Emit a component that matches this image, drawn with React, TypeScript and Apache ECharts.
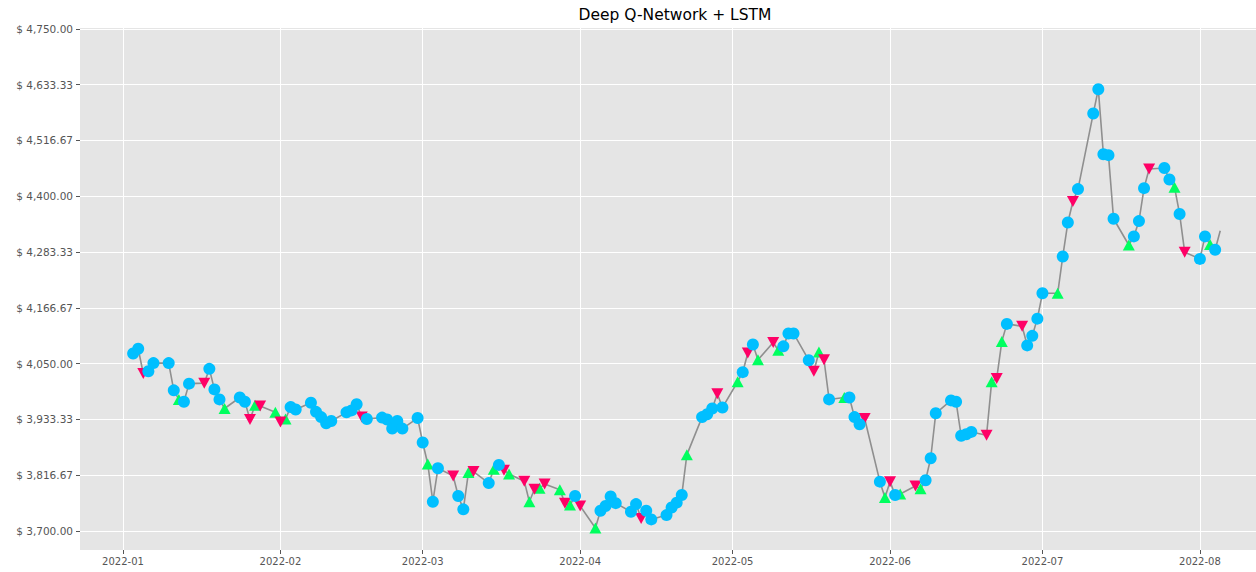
import React, { useEffect, useRef } from "react";
import * as echarts from "echarts";

const TITLE = "Deep Q-Network + LSTM";

const DATES = [
  "2022-01-03","2022-01-04","2022-01-05","2022-01-06","2022-01-07",
  "2022-01-10","2022-01-11","2022-01-12","2022-01-13","2022-01-14",
  "2022-01-17","2022-01-18","2022-01-19","2022-01-20","2022-01-21",
  "2022-01-24","2022-01-25","2022-01-26","2022-01-27","2022-01-28",
  "2022-01-31","2022-02-01","2022-02-02","2022-02-03","2022-02-04",
  "2022-02-07","2022-02-08","2022-02-09","2022-02-10","2022-02-11",
  "2022-02-14","2022-02-15","2022-02-16","2022-02-17","2022-02-18",
  "2022-02-21","2022-02-22","2022-02-23","2022-02-24","2022-02-25",
  "2022-02-28","2022-03-01","2022-03-02","2022-03-03","2022-03-04",
  "2022-03-07","2022-03-08","2022-03-09","2022-03-10","2022-03-11",
  "2022-03-14","2022-03-15","2022-03-16","2022-03-17","2022-03-18",
  "2022-03-21","2022-03-22","2022-03-23","2022-03-24","2022-03-25",
  "2022-03-28","2022-03-29","2022-03-30","2022-03-31","2022-04-01",
  "2022-04-04","2022-04-05","2022-04-06","2022-04-07","2022-04-08",
  "2022-04-11","2022-04-12","2022-04-13","2022-04-14","2022-04-15",
  "2022-04-18","2022-04-19","2022-04-20","2022-04-21","2022-04-22",
  "2022-04-25","2022-04-26","2022-04-27","2022-04-28","2022-04-29",
  "2022-05-02","2022-05-03","2022-05-04","2022-05-05","2022-05-06",
  "2022-05-09","2022-05-10","2022-05-11","2022-05-12","2022-05-13",
  "2022-05-16","2022-05-17","2022-05-18","2022-05-19","2022-05-20",
  "2022-05-23","2022-05-24","2022-05-25","2022-05-26","2022-05-27",
  "2022-05-30","2022-05-31","2022-06-01","2022-06-02","2022-06-03",
  "2022-06-06","2022-06-07","2022-06-08","2022-06-09","2022-06-10",
  "2022-06-13","2022-06-14","2022-06-15","2022-06-16","2022-06-17",
  "2022-06-20","2022-06-21","2022-06-22","2022-06-23","2022-06-24",
  "2022-06-27","2022-06-28","2022-06-29","2022-06-30","2022-07-01",
  "2022-07-04","2022-07-05","2022-07-06","2022-07-07","2022-07-08",
  "2022-07-11","2022-07-12","2022-07-13","2022-07-14","2022-07-15",
  "2022-07-18","2022-07-19","2022-07-20","2022-07-21","2022-07-22",
  "2022-07-25","2022-07-26","2022-07-27","2022-07-28","2022-07-29",
  "2022-08-01","2022-08-02","2022-08-03","2022-08-04","2022-08-05",
];

const PRICES = [
  4071, 4081, 4029, 4034, 4051,
  4051, 3994, 3975, 3970, 4008,
  4009, 4039, 3996, 3975, 3956,
  3979, 3970, 3933, 3963, 3961,
  3948, 3928, 3934, 3959, 3954,
  3968, 3949, 3938, 3925, 3930,
  3948, 3952, 3965, 3938, 3934,
  3937, 3933, 3914, 3930, 3914,
  3936, 3885, 3840, 3761, 3831,
  3815, 3773, 3745, 3822, 3824,
  3800, 3829, 3838, 3827, 3819,
  3804, 3761, 3787, 3789, 3798,
  3786, 3758, 3754, 3773, 3752,
  3706, 3742, 3752, 3772, 3758,
  3740, 3756, 3726, 3742, 3724,
  3733, 3749, 3759, 3775, 3859,
  3938, 3944, 3956, 3987, 3958,
  4012, 4032, 4072, 4090, 4058,
  4094, 4078, 4086, 4113, 4113,
  4057, 4034, 4074, 4058, 3975,
  3979, 3979, 3938, 3923, 3935,
  3803, 3770, 3803, 3775, 3777,
  3794, 3788, 3806, 3852, 3946,
  3973, 3970, 3899, 3902, 3907,
  3900, 4012, 4019, 4096, 4133,
  4128, 4088, 4108, 4144, 4197,
  4197, 4274, 4345, 4389, 4415,
  4573, 4624, 4488, 4486, 4353,
  4298, 4316, 4348, 4417, 4457,
  4459, 4435, 4419, 4363, 4283,
  4269, 4316, 4299, 4288, 4328,
];

// H = hold, B = buy, S = sell, "-" = no marker
const ACTIONS = [
  "H","H","S","H","H",
  "H","H","B","H","H",
  "S","H","H","H","B",
  "H","H","S","B","S",
  "B","S","B","H","H",
  "H","H","H","H","H",
  "H","H","H","S","H",
  "H","H","H","H","H",
  "H","H","B","H","H",
  "S","H","H","B","S",
  "H","B","H","S","B",
  "S","B","S","B","S",
  "B","S","B","H","S",
  "B","H","H","H","H",
  "H","H","S","H","H",
  "H","H","H","H","B",
  "H","H","H","S","H",
  "B","H","S","H","B",
  "S","B","H","H","H",
  "H","S","B","S","H",
  "B","H","H","H","S",
  "H","B","S","H","B",
  "S","B","H","H","H",
  "H","H","H","H","H",
  "S","B","S","B","H",
  "S","H","H","H","H",
  "B","H","H","S","H",
  "H","H","H","H","H",
  "B","H","H","H","S",
  "H","H","B","H","S",
  "H","H","B","H","-",
];

const MONTH_TICKS = [
  "2022-01-01","2022-02-01","2022-03-01","2022-04-01",
  "2022-05-01","2022-06-01","2022-07-01","2022-08-01",
];

const Y_TICKS = [
  3700, 3816.6667, 3933.3333, 4050, 4166.6667,
  4283.3333, 4400, 4516.6667, 4633.3333, 4750,
];

const toTs = (s: string) => {
  const [y, m, d] = s.split("-").map(Number);
  return new Date(y, m - 1, d).getTime();
};

const DAY = 86400000;

export default function App() {
  const ref = useRef<HTMLDivElement>(null);

  useEffect(() => {
    if (!ref.current) return;
    const chart = echarts.init(ref.current, undefined, { renderer: "svg" });

    const pts = DATES.map((d, i) => [toTs(d), PRICES[i]]);
    const pick = (code: string) => pts.filter((_, i) => ACTIONS[i] === code);
    const monthTs = MONTH_TICKS.map(toTs);
    const xMin = toTs("2022-01-01") - 8.46 * DAY;
    const xMax = xMin + 231.5 * DAY;

    const font = "'DejaVu Sans', sans-serif";

    chart.setOption({
      animation: false,
      backgroundColor: "#ffffff",
      graphic: [
        {
          type: "text",
          x: 675,
          y: 15,
          style: {
            text: TITLE,
            fill: "#000000",
            font: `15.5px ${font}`,
            textAlign: "center",
            textVerticalAlign: "middle",
          },
        },
      ],
      grid: {
        left: 80,
        top: 28,
        right: 0,
        bottom: 22,
        show: true,
        backgroundColor: "#E5E5E5",
        borderWidth: 0,
      },
      xAxis: {
        type: "value",
        min: xMin,
        max: xMax,
        axisLine: { show: false },
        axisTick: {
          show: true,
          customValues: monthTs,
          length: 4,
          lineStyle: { color: "#555555", width: 1 },
        },
        axisLabel: {
          customValues: monthTs,
          color: "#555555",
          fontSize: 10,
          fontFamily: font,
          margin: 6,
          formatter: (v: number) => {
            const d = new Date(v);
            return `${d.getFullYear()}-${String(d.getMonth() + 1).padStart(2, "0")}`;
          },
        },
        splitLine: { show: true, lineStyle: { color: "#ffffff", width: 1 } },
      },
      yAxis: {
        type: "value",
        min: 3660,
        max: 4752,
        axisLine: { show: false },
        axisTick: {
          show: true,
          customValues: Y_TICKS,
          length: 4,
          lineStyle: { color: "#555555", width: 1 },
        },
        axisLabel: {
          customValues: Y_TICKS,
          color: "#555555",
          fontSize: 10.5,
          fontFamily: font,
          margin: 7,
          formatter: (v: number) =>
            "$ " +
            v.toLocaleString("en-US", {
              minimumFractionDigits: 2,
              maximumFractionDigits: 2,
            }),
        },
        splitLine: { show: true, lineStyle: { color: "#ffffff", width: 1 } },
      },
      series: [
        {
          type: "line",
          data: pts,
          showSymbol: false,
          symbol: "none",
          clip: false,
          lineStyle: { color: "#8f8f8f", width: 1.6 },
          z: 1,
        },
        {
          type: "scatter",
          data: pick("B"),
          symbol: "triangle",
          symbolSize: [12, 11],
          itemStyle: { color: "#00ff5f", opacity: 1 },
          clip: false,
          z: 2,
        },
        {
          type: "scatter",
          data: pick("S"),
          symbol: "triangle",
          symbolRotate: 180,
          symbolSize: [12, 11],
          itemStyle: { color: "#ff0066", opacity: 1 },
          clip: false,
          z: 3,
        },
        {
          type: "scatter",
          data: pick("H"),
          symbol: "circle",
          symbolSize: 12,
          itemStyle: { color: "#00bfff", opacity: 1 },
          clip: false,
          z: 4,
        },
      ],
    });

    return () => chart.dispose();
  }, []);

  return (
    <div
      ref={ref}
      style={{ position: "fixed", left: 0, top: 0, width: 1256, height: 572 }}
    />
  );
}
